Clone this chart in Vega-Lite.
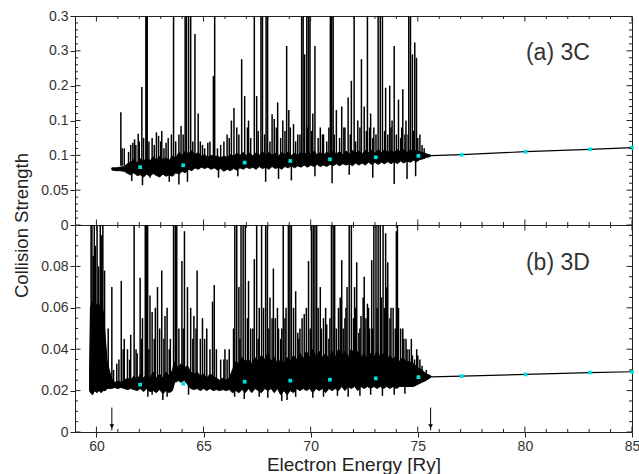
{
"$schema": "https://vega.github.io/schema/vega-lite/v6.json",
"padding": {"left": 11, "top": 8, "right": 5, "bottom": 0},
"spacing": 0,
"bounds": "flush",
"config": {"view": {"stroke": "#222", "strokeWidth": 1}, "font": "Liberation Sans",
  "axis": {"grid": false, "domain": false, "tickColor": "#222", "labelColor": "#333", "labelFont": "Liberation Sans", "labelFontSize": 14, "labelOverlap": false, "titleFont": "Liberation Sans", "titleColor": "#222", "titleFontWeight": "normal", "labelFlush": false}},
"datasets": {
"xt": [{"v":59},{"v":60},{"v":61},{"v":62},{"v":63},{"v":64},{"v":65},{"v":66},{"v":67},{"v":68},{"v":69},{"v":70},{"v":71},{"v":72},{"v":73},{"v":74},{"v":75},{"v":76},{"v":77},{"v":78},{"v":79},{"v":80},{"v":81},{"v":82},{"v":83},{"v":84},{"v":85}],
"yta": [{"v":0},{"v":0.01},{"v":0.02},{"v":0.03},{"v":0.04},{"v":0.05},{"v":0.06},{"v":0.07},{"v":0.08},{"v":0.09},{"v":0.1},{"v":0.11},{"v":0.12},{"v":0.13},{"v":0.14},{"v":0.15},{"v":0.16},{"v":0.17},{"v":0.18},{"v":0.19},{"v":0.2},{"v":0.21},{"v":0.22},{"v":0.23},{"v":0.24},{"v":0.25},{"v":0.26},{"v":0.27},{"v":0.28},{"v":0.29},{"v":0.3}],
"ytb": [{"v":0},{"v":0.005},{"v":0.01},{"v":0.015},{"v":0.02},{"v":0.025},{"v":0.03},{"v":0.035},{"v":0.04},{"v":0.045},{"v":0.05},{"v":0.055},{"v":0.06},{"v":0.065},{"v":0.07},{"v":0.075},{"v":0.08},{"v":0.085},{"v":0.09},{"v":0.095},{"v":0.1}],
"band_a": [
{"x":60.72,"lo":0.079,"hi":0.082},{"x":60.9,"lo":0.078,"hi":0.082},{"x":61.1,"lo":0.078,"hi":0.083},{"x":61.3,"lo":0.077,"hi":0.084},{"x":61.45,"lo":0.074,"hi":0.088},{"x":61.6,"lo":0.072,"hi":0.09},{"x":61.75,"lo":0.075,"hi":0.094},{"x":61.9,"lo":0.071,"hi":0.089},{"x":62.05,"lo":0.072,"hi":0.095},{"x":62.2,"lo":0.069,"hi":0.091},{"x":62.35,"lo":0.073,"hi":0.097},{"x":62.5,"lo":0.07,"hi":0.092},{"x":62.65,"lo":0.074,"hi":0.098},{"x":62.8,"lo":0.071,"hi":0.093},{"x":62.95,"lo":0.069,"hi":0.099},{"x":63.1,"lo":0.073,"hi":0.094},{"x":63.25,"lo":0.07,"hi":0.096},{"x":63.4,"lo":0.072,"hi":0.093},{"x":63.55,"lo":0.07,"hi":0.099},{"x":63.7,"lo":0.075,"hi":0.096},{"x":63.85,"lo":0.073,"hi":0.104},{"x":64.0,"lo":0.077,"hi":0.1},{"x":64.15,"lo":0.075,"hi":0.106},{"x":64.3,"lo":0.08,"hi":0.102},{"x":64.45,"lo":0.078,"hi":0.107},{"x":64.6,"lo":0.082,"hi":0.101},{"x":64.75,"lo":0.08,"hi":0.104},{"x":64.9,"lo":0.083,"hi":0.099},{"x":65.05,"lo":0.081,"hi":0.101},{"x":65.2,"lo":0.083,"hi":0.097},{"x":65.35,"lo":0.08,"hi":0.1},{"x":65.5,"lo":0.082,"hi":0.098},{"x":65.65,"lo":0.079,"hi":0.099},{"x":65.8,"lo":0.081,"hi":0.096},{"x":65.95,"lo":0.077,"hi":0.099},{"x":66.1,"lo":0.08,"hi":0.097},{"x":66.25,"lo":0.078,"hi":0.101},{"x":66.4,"lo":0.081,"hi":0.099},{"x":66.55,"lo":0.079,"hi":0.103},{"x":66.7,"lo":0.082,"hi":0.1},{"x":66.85,"lo":0.08,"hi":0.104},{"x":67.0,"lo":0.083,"hi":0.1},{"x":67.15,"lo":0.081,"hi":0.103},{"x":67.3,"lo":0.083,"hi":0.099},{"x":67.45,"lo":0.08,"hi":0.104},{"x":67.6,"lo":0.084,"hi":0.1},{"x":67.75,"lo":0.081,"hi":0.105},{"x":67.9,"lo":0.083,"hi":0.101},{"x":68.05,"lo":0.08,"hi":0.104},{"x":68.2,"lo":0.084,"hi":0.1},{"x":68.35,"lo":0.081,"hi":0.103},{"x":68.5,"lo":0.083,"hi":0.099},{"x":68.65,"lo":0.08,"hi":0.104},{"x":68.8,"lo":0.084,"hi":0.101},{"x":68.95,"lo":0.082,"hi":0.105},{"x":69.1,"lo":0.085,"hi":0.1},{"x":69.25,"lo":0.082,"hi":0.103},{"x":69.4,"lo":0.085,"hi":0.1},{"x":69.55,"lo":0.083,"hi":0.104},{"x":69.7,"lo":0.086,"hi":0.101},{"x":69.85,"lo":0.083,"hi":0.105},{"x":70.0,"lo":0.086,"hi":0.102},{"x":70.15,"lo":0.084,"hi":0.106},{"x":70.3,"lo":0.087,"hi":0.101},{"x":70.45,"lo":0.084,"hi":0.104},{"x":70.6,"lo":0.086,"hi":0.1},{"x":70.75,"lo":0.084,"hi":0.105},{"x":70.9,"lo":0.087,"hi":0.102},{"x":71.05,"lo":0.085,"hi":0.106},{"x":71.2,"lo":0.088,"hi":0.102},{"x":71.35,"lo":0.085,"hi":0.105},{"x":71.5,"lo":0.088,"hi":0.101},{"x":71.65,"lo":0.086,"hi":0.106},{"x":71.8,"lo":0.088,"hi":0.102},{"x":71.95,"lo":0.085,"hi":0.107},{"x":72.1,"lo":0.089,"hi":0.103},{"x":72.25,"lo":0.086,"hi":0.106},{"x":72.4,"lo":0.089,"hi":0.102},{"x":72.55,"lo":0.086,"hi":0.107},{"x":72.7,"lo":0.09,"hi":0.104},{"x":72.85,"lo":0.087,"hi":0.107},{"x":73.0,"lo":0.09,"hi":0.103},{"x":73.15,"lo":0.087,"hi":0.108},{"x":73.3,"lo":0.09,"hi":0.104},{"x":73.45,"lo":0.088,"hi":0.108},{"x":73.6,"lo":0.091,"hi":0.104},{"x":73.75,"lo":0.088,"hi":0.107},{"x":73.9,"lo":0.091,"hi":0.104},{"x":74.05,"lo":0.088,"hi":0.108},{"x":74.2,"lo":0.092,"hi":0.105},{"x":74.35,"lo":0.089,"hi":0.108},{"x":74.5,"lo":0.092,"hi":0.104},{"x":74.65,"lo":0.09,"hi":0.108},{"x":74.8,"lo":0.093,"hi":0.105},{"x":74.95,"lo":0.091,"hi":0.107},{"x":75.1,"lo":0.094,"hi":0.105},{"x":75.25,"lo":0.095,"hi":0.104},{"x":75.4,"lo":0.097,"hi":0.102},{"x":75.55,"lo":0.098,"hi":0.101},{"x":75.62,"lo":0.0993,"hi":0.0997}
],
"band_b": [
{"x":59.68,"lo":0.02,"hi":0.03},{"x":59.72,"lo":0.019,"hi":0.06},{"x":59.82,"lo":0.018,"hi":0.063},{"x":59.92,"lo":0.02,"hi":0.058},{"x":60.02,"lo":0.019,"hi":0.062},{"x":60.12,"lo":0.02,"hi":0.06},{"x":60.22,"lo":0.019,"hi":0.063},{"x":60.32,"lo":0.02,"hi":0.058},{"x":60.42,"lo":0.02,"hi":0.045},{"x":60.5,"lo":0.021,"hi":0.034},{"x":60.6,"lo":0.021,"hi":0.03},{"x":60.7,"lo":0.021,"hi":0.026},{"x":60.85,"lo":0.0215,"hi":0.024},{"x":61.0,"lo":0.021,"hi":0.0245},{"x":61.15,"lo":0.0215,"hi":0.024},{"x":61.3,"lo":0.021,"hi":0.025},{"x":61.45,"lo":0.0205,"hi":0.026},{"x":61.6,"lo":0.021,"hi":0.025},{"x":61.75,"lo":0.0205,"hi":0.027},{"x":61.9,"lo":0.02,"hi":0.025},{"x":62.05,"lo":0.021,"hi":0.028},{"x":62.2,"lo":0.0195,"hi":0.026},{"x":62.35,"lo":0.021,"hi":0.028},{"x":62.5,"lo":0.0195,"hi":0.026},{"x":62.65,"lo":0.02,"hi":0.029},{"x":62.8,"lo":0.019,"hi":0.026},{"x":62.95,"lo":0.0205,"hi":0.028},{"x":63.1,"lo":0.0185,"hi":0.026},{"x":63.25,"lo":0.02,"hi":0.029},{"x":63.4,"lo":0.019,"hi":0.027},{"x":63.55,"lo":0.02,"hi":0.03},{"x":63.65,"lo":0.024,"hi":0.034},{"x":63.8,"lo":0.025,"hi":0.031},{"x":63.95,"lo":0.024,"hi":0.033},{"x":64.1,"lo":0.025,"hi":0.031},{"x":64.25,"lo":0.023,"hi":0.032},{"x":64.4,"lo":0.021,"hi":0.029},{"x":64.55,"lo":0.0205,"hi":0.028},{"x":64.7,"lo":0.021,"hi":0.029},{"x":64.85,"lo":0.02,"hi":0.027},{"x":65.0,"lo":0.021,"hi":0.028},{"x":65.15,"lo":0.02,"hi":0.026},{"x":65.3,"lo":0.021,"hi":0.028},{"x":65.45,"lo":0.02,"hi":0.027},{"x":65.6,"lo":0.0205,"hi":0.026},{"x":65.75,"lo":0.02,"hi":0.025},{"x":65.9,"lo":0.0205,"hi":0.026},{"x":66.05,"lo":0.02,"hi":0.025},{"x":66.2,"lo":0.0205,"hi":0.026},{"x":66.35,"lo":0.019,"hi":0.03},{"x":66.5,"lo":0.02,"hi":0.034},{"x":66.65,"lo":0.019,"hi":0.033},{"x":66.8,"lo":0.0205,"hi":0.036},{"x":66.95,"lo":0.019,"hi":0.034},{"x":67.1,"lo":0.021,"hi":0.035},{"x":67.25,"lo":0.019,"hi":0.033},{"x":67.4,"lo":0.021,"hi":0.036},{"x":67.55,"lo":0.02,"hi":0.034},{"x":67.7,"lo":0.019,"hi":0.037},{"x":67.85,"lo":0.021,"hi":0.035},{"x":68.0,"lo":0.02,"hi":0.038},{"x":68.15,"lo":0.021,"hi":0.034},{"x":68.3,"lo":0.019,"hi":0.036},{"x":68.45,"lo":0.021,"hi":0.033},{"x":68.6,"lo":0.018,"hi":0.035},{"x":68.75,"lo":0.02,"hi":0.033},{"x":68.9,"lo":0.018,"hi":0.036},{"x":69.05,"lo":0.02,"hi":0.034},{"x":69.2,"lo":0.019,"hi":0.037},{"x":69.35,"lo":0.021,"hi":0.035},{"x":69.5,"lo":0.02,"hi":0.038},{"x":69.65,"lo":0.021,"hi":0.035},{"x":69.8,"lo":0.02,"hi":0.039},{"x":69.95,"lo":0.021,"hi":0.036},{"x":70.1,"lo":0.019,"hi":0.04},{"x":70.25,"lo":0.021,"hi":0.036},{"x":70.4,"lo":0.02,"hi":0.039},{"x":70.55,"lo":0.021,"hi":0.036},{"x":70.7,"lo":0.019,"hi":0.038},{"x":70.85,"lo":0.021,"hi":0.035},{"x":71.0,"lo":0.02,"hi":0.039},{"x":71.15,"lo":0.021,"hi":0.036},{"x":71.3,"lo":0.02,"hi":0.04},{"x":71.45,"lo":0.022,"hi":0.037},{"x":71.6,"lo":0.02,"hi":0.039},{"x":71.75,"lo":0.022,"hi":0.036},{"x":71.9,"lo":0.021,"hi":0.04},{"x":72.05,"lo":0.022,"hi":0.037},{"x":72.2,"lo":0.02,"hi":0.039},{"x":72.35,"lo":0.022,"hi":0.036},{"x":72.5,"lo":0.021,"hi":0.038},{"x":72.65,"lo":0.022,"hi":0.035},{"x":72.8,"lo":0.021,"hi":0.038},{"x":72.95,"lo":0.022,"hi":0.036},{"x":73.1,"lo":0.021,"hi":0.039},{"x":73.25,"lo":0.022,"hi":0.036},{"x":73.4,"lo":0.021,"hi":0.038},{"x":73.55,"lo":0.022,"hi":0.035},{"x":73.7,"lo":0.021,"hi":0.037},{"x":73.85,"lo":0.022,"hi":0.035},{"x":74.0,"lo":0.021,"hi":0.037},{"x":74.15,"lo":0.022,"hi":0.034},{"x":74.3,"lo":0.022,"hi":0.036},{"x":74.45,"lo":0.022,"hi":0.034},{"x":74.6,"lo":0.022,"hi":0.034},{"x":74.8,"lo":0.022,"hi":0.033},{"x":75.0,"lo":0.023,"hi":0.031},{"x":75.2,"lo":0.024,"hi":0.03},{"x":75.4,"lo":0.025,"hi":0.028},{"x":75.55,"lo":0.026,"hi":0.0275},{"x":75.62,"lo":0.0265,"hi":0.027}
],
"spk_a": [
{"x":61.14,"lo":0.085,"hi":0.162},{"x":61.2,"lo":0.085,"hi":0.11},{"x":61.5,"lo":0.085,"hi":0.105},{"x":61.7,"lo":0.085,"hi":0.118},{"x":61.78,"lo":0.085,"hi":0.123},{"x":61.84,"lo":0.085,"hi":0.115},{"x":61.95,"lo":0.085,"hi":0.131},{"x":62.12,"lo":0.085,"hi":0.198},{"x":62.31,"lo":0.085,"hi":0.32},{"x":62.34,"lo":0.085,"hi":0.32},{"x":62.37,"lo":0.085,"hi":0.32},{"x":62.45,"lo":0.085,"hi":0.12},{"x":62.6,"lo":0.085,"hi":0.125},{"x":62.8,"lo":0.085,"hi":0.133},{"x":62.9,"lo":0.085,"hi":0.128},{"x":63.05,"lo":0.085,"hi":0.135},{"x":63.15,"lo":0.085,"hi":0.11},{"x":63.35,"lo":0.085,"hi":0.125},{"x":63.6,"lo":0.085,"hi":0.32},{"x":63.7,"lo":0.085,"hi":0.12},{"x":63.85,"lo":0.085,"hi":0.13},{"x":63.95,"lo":0.085,"hi":0.142},{"x":64.14,"lo":0.09,"hi":0.32},{"x":64.2,"lo":0.09,"hi":0.32},{"x":64.3,"lo":0.09,"hi":0.32},{"x":64.4,"lo":0.09,"hi":0.32},{"x":64.6,"lo":0.09,"hi":0.274},{"x":64.75,"lo":0.09,"hi":0.16},{"x":64.85,"lo":0.09,"hi":0.12},{"x":65.05,"lo":0.09,"hi":0.11},{"x":65.3,"lo":0.09,"hi":0.12},{"x":65.46,"lo":0.09,"hi":0.214},{"x":65.52,"lo":0.09,"hi":0.32},{"x":65.8,"lo":0.09,"hi":0.115},{"x":66.1,"lo":0.09,"hi":0.13},{"x":66.3,"lo":0.09,"hi":0.15},{"x":66.42,"lo":0.09,"hi":0.168},{"x":66.55,"lo":0.09,"hi":0.14},{"x":66.78,"lo":0.09,"hi":0.238},{"x":66.92,"lo":0.09,"hi":0.185},{"x":67.1,"lo":0.09,"hi":0.15},{"x":67.2,"lo":0.09,"hi":0.125},{"x":67.37,"lo":0.09,"hi":0.32},{"x":67.48,"lo":0.09,"hi":0.185},{"x":67.68,"lo":0.09,"hi":0.32},{"x":67.75,"lo":0.09,"hi":0.32},{"x":67.92,"lo":0.09,"hi":0.32},{"x":67.99,"lo":0.09,"hi":0.32},{"x":68.1,"lo":0.095,"hi":0.12},{"x":68.2,"lo":0.095,"hi":0.159},{"x":68.3,"lo":0.095,"hi":0.152},{"x":68.46,"lo":0.095,"hi":0.176},{"x":68.6,"lo":0.095,"hi":0.125},{"x":68.7,"lo":0.095,"hi":0.15},{"x":68.88,"lo":0.095,"hi":0.257},{"x":68.98,"lo":0.095,"hi":0.165},{"x":69.2,"lo":0.095,"hi":0.145},{"x":69.3,"lo":0.095,"hi":0.12},{"x":69.4,"lo":0.095,"hi":0.13},{"x":69.58,"lo":0.095,"hi":0.32},{"x":69.65,"lo":0.095,"hi":0.32},{"x":69.72,"lo":0.095,"hi":0.245},{"x":69.82,"lo":0.095,"hi":0.32},{"x":69.9,"lo":0.095,"hi":0.32},{"x":69.97,"lo":0.095,"hi":0.32},{"x":70.1,"lo":0.095,"hi":0.16},{"x":70.2,"lo":0.095,"hi":0.257},{"x":70.35,"lo":0.095,"hi":0.125},{"x":70.45,"lo":0.095,"hi":0.14},{"x":70.6,"lo":0.095,"hi":0.13},{"x":70.75,"lo":0.095,"hi":0.12},{"x":70.92,"lo":0.095,"hi":0.32},{"x":70.98,"lo":0.095,"hi":0.32},{"x":71.05,"lo":0.095,"hi":0.32},{"x":71.2,"lo":0.095,"hi":0.165},{"x":71.35,"lo":0.095,"hi":0.125},{"x":71.45,"lo":0.095,"hi":0.17},{"x":71.6,"lo":0.095,"hi":0.14},{"x":71.75,"lo":0.095,"hi":0.183},{"x":71.9,"lo":0.095,"hi":0.207},{"x":72.03,"lo":0.095,"hi":0.32},{"x":72.1,"lo":0.095,"hi":0.12},{"x":72.2,"lo":0.095,"hi":0.15},{"x":72.37,"lo":0.095,"hi":0.238},{"x":72.5,"lo":0.095,"hi":0.17},{"x":72.65,"lo":0.095,"hi":0.32},{"x":72.8,"lo":0.095,"hi":0.16},{"x":72.9,"lo":0.095,"hi":0.125},{"x":72.95,"lo":0.095,"hi":0.14},{"x":73.15,"lo":0.095,"hi":0.32},{"x":73.25,"lo":0.095,"hi":0.32},{"x":73.35,"lo":0.095,"hi":0.32},{"x":73.5,"lo":0.095,"hi":0.197},{"x":73.6,"lo":0.095,"hi":0.13},{"x":73.69,"lo":0.095,"hi":0.2},{"x":73.8,"lo":0.095,"hi":0.15},{"x":73.9,"lo":0.095,"hi":0.257},{"x":74.1,"lo":0.095,"hi":0.18},{"x":74.2,"lo":0.095,"hi":0.125},{"x":74.3,"lo":0.095,"hi":0.195},{"x":74.4,"lo":0.095,"hi":0.13},{"x":74.45,"lo":0.095,"hi":0.15},{"x":74.58,"lo":0.095,"hi":0.32},{"x":74.66,"lo":0.095,"hi":0.32},{"x":74.75,"lo":0.095,"hi":0.245},{"x":74.86,"lo":0.095,"hi":0.262},{"x":74.94,"lo":0.095,"hi":0.24},{"x":75.0,"lo":0.095,"hi":0.125},{"x":75.1,"lo":0.095,"hi":0.13},{"x":75.3,"lo":0.095,"hi":0.11},
{"x":61.3,"lo":0.085,"hi":0.11},{"x":61.6,"lo":0.085,"hi":0.115},{"x":62.0,"lo":0.085,"hi":0.12},{"x":62.2,"lo":0.085,"hi":0.125},{"x":62.7,"lo":0.085,"hi":0.115},{"x":63.0,"lo":0.085,"hi":0.12},{"x":63.25,"lo":0.085,"hi":0.118},{"x":63.5,"lo":0.085,"hi":0.13},{"x":64.05,"lo":0.09,"hi":0.13},{"x":64.5,"lo":0.09,"hi":0.12},{"x":64.95,"lo":0.09,"hi":0.115},{"x":65.2,"lo":0.09,"hi":0.118},{"x":65.65,"lo":0.09,"hi":0.11},{"x":65.95,"lo":0.09,"hi":0.12},{"x":66.2,"lo":0.09,"hi":0.125},{"x":66.65,"lo":0.09,"hi":0.13},{"x":67.05,"lo":0.09,"hi":0.14},{"x":67.55,"lo":0.09,"hi":0.135},{"x":67.85,"lo":0.09,"hi":0.13},{"x":68.4,"lo":0.095,"hi":0.14},{"x":68.8,"lo":0.095,"hi":0.135},{"x":69.05,"lo":0.095,"hi":0.14},{"x":69.5,"lo":0.095,"hi":0.13},{"x":69.85,"lo":0.095,"hi":0.14},{"x":70.05,"lo":0.095,"hi":0.135},{"x":70.55,"lo":0.095,"hi":0.13},{"x":70.85,"lo":0.095,"hi":0.14},{"x":71.1,"lo":0.095,"hi":0.13},{"x":71.55,"lo":0.095,"hi":0.14},{"x":71.85,"lo":0.095,"hi":0.13},{"x":72.3,"lo":0.095,"hi":0.14},{"x":72.6,"lo":0.095,"hi":0.135},{"x":72.75,"lo":0.095,"hi":0.14},{"x":73.05,"lo":0.095,"hi":0.13},{"x":73.45,"lo":0.095,"hi":0.135},{"x":73.75,"lo":0.095,"hi":0.14},{"x":74.0,"lo":0.095,"hi":0.13},{"x":74.25,"lo":0.095,"hi":0.14},{"x":74.55,"lo":0.095,"hi":0.13},{"x":74.8,"lo":0.095,"hi":0.135},{"x":75.2,"lo":0.095,"hi":0.115},
{"x":61.65,"lo":0.063,"hi":0.085},{"x":62.15,"lo":0.057,"hi":0.085},{"x":62.5,"lo":0.068,"hi":0.085},{"x":63.4,"lo":0.062,"hi":0.085},{"x":63.85,"lo":0.058,"hi":0.085},{"x":64.25,"lo":0.062,"hi":0.085},{"x":65.7,"lo":0.068,"hi":0.09},{"x":66.6,"lo":0.07,"hi":0.09},{"x":67.9,"lo":0.062,"hi":0.09},{"x":68.5,"lo":0.066,"hi":0.09},{"x":69.1,"lo":0.064,"hi":0.09},{"x":70.2,"lo":0.07,"hi":0.09},{"x":71.0,"lo":0.06,"hi":0.09},{"x":71.8,"lo":0.072,"hi":0.09},{"x":72.9,"lo":0.068,"hi":0.095},{"x":73.9,"lo":0.059,"hi":0.095},{"x":74.5,"lo":0.066,"hi":0.095},{"x":74.9,"lo":0.07,"hi":0.095}
],
"spk_b": [
{"x":59.75,"lo":0.02,"hi":0.11},{"x":59.79,"lo":0.02,"hi":0.11},{"x":59.85,"lo":0.02,"hi":0.085},{"x":59.9,"lo":0.02,"hi":0.11},{"x":59.95,"lo":0.02,"hi":0.09},{"x":60.03,"lo":0.02,"hi":0.11},{"x":60.1,"lo":0.02,"hi":0.08},{"x":60.18,"lo":0.02,"hi":0.11},{"x":60.25,"lo":0.02,"hi":0.095},{"x":60.3,"lo":0.02,"hi":0.11},{"x":60.38,"lo":0.02,"hi":0.078},{"x":60.55,"lo":0.024,"hi":0.05},{"x":60.72,"lo":0.024,"hi":0.07},{"x":60.95,"lo":0.024,"hi":0.033},{"x":61.16,"lo":0.024,"hi":0.073},{"x":61.3,"lo":0.024,"hi":0.045},{"x":61.45,"lo":0.024,"hi":0.04},{"x":61.6,"lo":0.024,"hi":0.047},{"x":61.76,"lo":0.024,"hi":0.11},{"x":61.9,"lo":0.024,"hi":0.038},{"x":62.04,"lo":0.024,"hi":0.0745},{"x":62.15,"lo":0.024,"hi":0.055},{"x":62.28,"lo":0.024,"hi":0.11},{"x":62.33,"lo":0.024,"hi":0.11},{"x":62.39,"lo":0.024,"hi":0.11},{"x":62.5,"lo":0.024,"hi":0.066},{"x":62.6,"lo":0.024,"hi":0.058},{"x":62.75,"lo":0.024,"hi":0.06},{"x":62.85,"lo":0.024,"hi":0.07},{"x":63.05,"lo":0.024,"hi":0.078},{"x":63.2,"lo":0.024,"hi":0.056},{"x":63.3,"lo":0.024,"hi":0.06},{"x":63.45,"lo":0.024,"hi":0.045},{"x":63.6,"lo":0.024,"hi":0.11},{"x":63.68,"lo":0.024,"hi":0.11},{"x":63.75,"lo":0.024,"hi":0.11},{"x":63.99,"lo":0.027,"hi":0.0826},{"x":64.11,"lo":0.027,"hi":0.097},{"x":64.25,"lo":0.027,"hi":0.07},{"x":64.4,"lo":0.024,"hi":0.06},{"x":64.55,"lo":0.024,"hi":0.056},{"x":64.7,"lo":0.024,"hi":0.078},{"x":64.85,"lo":0.024,"hi":0.045},{"x":64.95,"lo":0.024,"hi":0.055},{"x":65.15,"lo":0.024,"hi":0.05},{"x":65.42,"lo":0.024,"hi":0.063},{"x":65.5,"lo":0.024,"hi":0.071},{"x":65.8,"lo":0.024,"hi":0.035},{"x":66.0,"lo":0.024,"hi":0.04},{"x":66.2,"lo":0.024,"hi":0.04},{"x":66.46,"lo":0.025,"hi":0.11},{"x":66.55,"lo":0.025,"hi":0.11},{"x":66.65,"lo":0.025,"hi":0.07},{"x":66.75,"lo":0.025,"hi":0.11},{"x":66.85,"lo":0.025,"hi":0.11},{"x":66.95,"lo":0.025,"hi":0.11},{"x":67.1,"lo":0.025,"hi":0.073},{"x":67.2,"lo":0.025,"hi":0.05},{"x":67.37,"lo":0.025,"hi":0.0835},{"x":67.48,"lo":0.025,"hi":0.11},{"x":67.6,"lo":0.025,"hi":0.06},{"x":67.71,"lo":0.025,"hi":0.11},{"x":67.9,"lo":0.025,"hi":0.11},{"x":67.98,"lo":0.025,"hi":0.11},{"x":68.1,"lo":0.025,"hi":0.065},{"x":68.26,"lo":0.025,"hi":0.079},{"x":68.35,"lo":0.025,"hi":0.055},{"x":68.5,"lo":0.025,"hi":0.05},{"x":68.6,"lo":0.025,"hi":0.045},{"x":68.72,"lo":0.025,"hi":0.11},{"x":68.85,"lo":0.025,"hi":0.06},{"x":68.96,"lo":0.025,"hi":0.11},{"x":69.03,"lo":0.025,"hi":0.11},{"x":69.1,"lo":0.025,"hi":0.11},{"x":69.3,"lo":0.025,"hi":0.068},{"x":69.4,"lo":0.025,"hi":0.048},{"x":69.5,"lo":0.025,"hi":0.05},{"x":69.7,"lo":0.025,"hi":0.057},{"x":69.9,"lo":0.025,"hi":0.0826},{"x":70.04,"lo":0.025,"hi":0.11},{"x":70.12,"lo":0.025,"hi":0.11},{"x":70.2,"lo":0.025,"hi":0.11},{"x":70.28,"lo":0.025,"hi":0.11},{"x":70.45,"lo":0.025,"hi":0.07},{"x":70.6,"lo":0.025,"hi":0.055},{"x":70.75,"lo":0.025,"hi":0.052},{"x":70.85,"lo":0.025,"hi":0.045},{"x":70.97,"lo":0.025,"hi":0.11},{"x":71.05,"lo":0.025,"hi":0.11},{"x":71.12,"lo":0.025,"hi":0.11},{"x":71.3,"lo":0.025,"hi":0.06},{"x":71.45,"lo":0.025,"hi":0.083},{"x":71.6,"lo":0.025,"hi":0.055},{"x":71.7,"lo":0.025,"hi":0.07},{"x":71.8,"lo":0.025,"hi":0.11},{"x":71.9,"lo":0.025,"hi":0.11},{"x":72.05,"lo":0.025,"hi":0.07},{"x":72.15,"lo":0.025,"hi":0.082},{"x":72.25,"lo":0.025,"hi":0.048},{"x":72.35,"lo":0.025,"hi":0.056},{"x":72.5,"lo":0.025,"hi":0.075},{"x":72.65,"lo":0.025,"hi":0.062},{"x":72.75,"lo":0.025,"hi":0.05},{"x":72.85,"lo":0.025,"hi":0.083},{"x":72.95,"lo":0.025,"hi":0.11},{"x":73.05,"lo":0.025,"hi":0.11},{"x":73.15,"lo":0.025,"hi":0.11},{"x":73.25,"lo":0.025,"hi":0.11},{"x":73.38,"lo":0.025,"hi":0.11},{"x":73.5,"lo":0.025,"hi":0.096},{"x":73.6,"lo":0.025,"hi":0.082},{"x":73.75,"lo":0.025,"hi":0.06},{"x":73.85,"lo":0.025,"hi":0.06},{"x":74.0,"lo":0.025,"hi":0.097},{"x":74.05,"lo":0.025,"hi":0.11},{"x":74.2,"lo":0.025,"hi":0.05},{"x":74.35,"lo":0.025,"hi":0.045},{"x":74.5,"lo":0.025,"hi":0.04},{"x":74.6,"lo":0.025,"hi":0.04},{"x":74.75,"lo":0.025,"hi":0.037},{"x":74.85,"lo":0.025,"hi":0.035},{"x":75.0,"lo":0.025,"hi":0.037},{"x":75.2,"lo":0.025,"hi":0.032},{"x":75.4,"lo":0.026,"hi":0.03},
{"x":60.8,"lo":0.023,"hi":0.03},{"x":61.05,"lo":0.023,"hi":0.035},{"x":61.25,"lo":0.023,"hi":0.04},{"x":61.55,"lo":0.023,"hi":0.035},{"x":61.85,"lo":0.023,"hi":0.04},{"x":62.1,"lo":0.023,"hi":0.045},{"x":62.45,"lo":0.023,"hi":0.04},{"x":62.7,"lo":0.023,"hi":0.045},{"x":62.95,"lo":0.023,"hi":0.05},{"x":63.15,"lo":0.023,"hi":0.045},{"x":63.4,"lo":0.023,"hi":0.04},{"x":63.85,"lo":0.027,"hi":0.05},{"x":64.05,"lo":0.027,"hi":0.05},{"x":64.5,"lo":0.024,"hi":0.045},{"x":64.65,"lo":0.024,"hi":0.05},{"x":65.05,"lo":0.024,"hi":0.045},{"x":65.3,"lo":0.024,"hi":0.04},{"x":65.6,"lo":0.024,"hi":0.04},{"x":65.95,"lo":0.024,"hi":0.035},{"x":66.1,"lo":0.024,"hi":0.035},
{"x":66.4,"lo":0.025,"hi":0.05},{"x":66.7,"lo":0.025,"hi":0.045},{"x":67.05,"lo":0.025,"hi":0.055},{"x":67.3,"lo":0.025,"hi":0.05},{"x":67.55,"lo":0.025,"hi":0.045},{"x":67.8,"lo":0.025,"hi":0.06},{"x":68.05,"lo":0.025,"hi":0.05},{"x":68.2,"lo":0.025,"hi":0.055},{"x":68.45,"lo":0.025,"hi":0.06},{"x":68.65,"lo":0.025,"hi":0.05},{"x":68.8,"lo":0.025,"hi":0.055},{"x":69.2,"lo":0.025,"hi":0.06},{"x":69.45,"lo":0.025,"hi":0.045},{"x":69.6,"lo":0.025,"hi":0.055},{"x":69.8,"lo":0.025,"hi":0.06},{"x":69.98,"lo":0.025,"hi":0.05},{"x":70.35,"lo":0.025,"hi":0.06},{"x":70.5,"lo":0.025,"hi":0.05},{"x":70.7,"lo":0.025,"hi":0.06},{"x":70.9,"lo":0.025,"hi":0.055},{"x":71.2,"lo":0.025,"hi":0.05},{"x":71.38,"lo":0.025,"hi":0.065},{"x":71.52,"lo":0.025,"hi":0.05},{"x":71.65,"lo":0.025,"hi":0.06},{"x":72.0,"lo":0.025,"hi":0.055},{"x":72.1,"lo":0.025,"hi":0.06},{"x":72.3,"lo":0.025,"hi":0.05},{"x":72.45,"lo":0.025,"hi":0.065},{"x":72.58,"lo":0.025,"hi":0.055},{"x":72.7,"lo":0.025,"hi":0.06},{"x":72.9,"lo":0.025,"hi":0.05},{"x":73.1,"lo":0.025,"hi":0.06},{"x":73.3,"lo":0.025,"hi":0.065},{"x":73.45,"lo":0.025,"hi":0.06},{"x":73.55,"lo":0.025,"hi":0.07},{"x":73.7,"lo":0.025,"hi":0.055},{"x":73.95,"lo":0.025,"hi":0.05},{"x":74.1,"lo":0.025,"hi":0.06},{"x":74.3,"lo":0.025,"hi":0.05},{"x":74.45,"lo":0.025,"hi":0.045},{"x":74.7,"lo":0.025,"hi":0.045},{"x":74.95,"lo":0.025,"hi":0.04},{"x":75.1,"lo":0.025,"hi":0.035},
{"x":62.4,"lo":0.017,"hi":0.022},{"x":62.6,"lo":0.018,"hi":0.022},{"x":63.1,"lo":0.0155,"hi":0.022},{"x":63.3,"lo":0.017,"hi":0.022},{"x":64.3,"lo":0.018,"hi":0.024},{"x":66.45,"lo":0.017,"hi":0.022},{"x":66.9,"lo":0.016,"hi":0.022},{"x":67.6,"lo":0.017,"hi":0.022},{"x":68.0,"lo":0.0165,"hi":0.022},{"x":68.65,"lo":0.015,"hi":0.022},{"x":68.9,"lo":0.0155,"hi":0.022},{"x":69.3,"lo":0.017,"hi":0.022},{"x":70.1,"lo":0.0165,"hi":0.022},{"x":70.6,"lo":0.017,"hi":0.022},{"x":71.25,"lo":0.0175,"hi":0.022},{"x":71.75,"lo":0.017,"hi":0.022},{"x":72.3,"lo":0.0175,"hi":0.022},{"x":72.8,"lo":0.018,"hi":0.022},{"x":73.35,"lo":0.0175,"hi":0.022},{"x":73.9,"lo":0.018,"hi":0.022},{"x":74.4,"lo":0.0185,"hi":0.022}
],
"tail": [
{"x":75.62,"a":0.0995,"b":0.0266},{"x":77.05,"a":0.101,"b":0.027},{"x":80.03,"a":0.1052,"b":0.0278},{"x":83.03,"a":0.1086,"b":0.0287},{"x":85,"a":0.111,"b":0.0291}
],
"cyan": [
{"x":62.04,"a":0.083,"b":0.0229},{"x":64.05,"a":0.0857,"b":0.0233},{"x":66.92,"a":0.0895,"b":0.0243},{"x":69.05,"a":0.0919,"b":0.0248},{"x":70.9,"a":0.0943,"b":0.0253},{"x":73.04,"a":0.0972,"b":0.0259},{"x":75.03,"a":0.0992,"b":0.0265},{"x":77.05,"a":0.1009,"b":0.027},{"x":80.03,"a":0.1052,"b":0.0278},{"x":83.03,"a":0.1086,"b":0.0287},{"x":85.0,"a":0.111,"b":0.0291}
],
"arrows": [
{"x":60.72,"y1":0.0118,"y2":0.0008,"h":0.0028},{"x":75.6,"y1":0.0118,"y2":0.0008,"h":0.0028}
]
},
"vconcat": [
{
"width": 557, "height": 209,
"layer": [
 {"layer": [
  {"data": {"name": "band_a"}, "mark": {"type": "area", "color": "black", "opacity": 1, "stroke": "black", "strokeWidth": 1},
   "encoding": {
    "x": {"field": "x", "type": "quantitative", "scale": {"domain": [59, 85], "nice": false, "zero": false},
      "axis": {"orient": "bottom", "title": null, "labels": false, "ticks": false, "values": [60,65,70,75,80,85]}},
    "y": {"field": "lo", "type": "quantitative", "scale": {"domain": [0, 0.3], "nice": false, "zero": false},
      "axis": {"orient": "left", "title": null, "values": [0,0.1,0.2,0.3], "format": "~g"}},
    "y2": {"field": "hi"}}},
  {"data": {"name": "spk_a"}, "mark": {"type": "rule", "color": "black", "strokeWidth": 1.5, "clip": true},
   "encoding": {"x": {"field": "x", "type": "quantitative"}, "y": {"field": "lo", "type": "quantitative"}, "y2": {"field": "hi"}}},
  {"data": {"name": "tail"}, "mark": {"type": "line", "color": "black", "strokeWidth": 1.2},
   "encoding": {"x": {"field": "x", "type": "quantitative"}, "y": {"field": "a", "type": "quantitative"}}},
  {"data": {"values": [{"x": 80.05, "y": 0.247, "t": "(a) 3C"}]}, "mark": {"type": "text", "align": "left", "baseline": "middle", "fontSize": 23, "color": "#333", "font": "Liberation Sans"},
   "encoding": {"x": {"field": "x", "type": "quantitative"}, "y": {"field": "y", "type": "quantitative"}, "text": {"field": "t"}}},
  {"data": {"name": "cyan"}, "mark": {"type": "square", "color": "#00e0e0", "size": 14, "opacity": 1},
   "encoding": {"x": {"field": "x", "type": "quantitative"}, "y": {"field": "a", "type": "quantitative"}}},
  {"data": {"name": "xt"}, "mark": {"type": "tick", "orient": "vertical", "color": "#222", "thickness": 1, "clip": true, "opacity": 1},
   "encoding": {"x": {"field": "v", "type": "quantitative"}, "y": {"datum": 0, "type": "quantitative"}, "size": {"condition": {"test": "datum.v % 5 == 0", "value": 11}, "value": 6}}},
  {"data": {"name": "xt"}, "mark": {"type": "tick", "orient": "vertical", "color": "#222", "thickness": 1, "clip": true, "opacity": 1},
   "encoding": {"x": {"field": "v", "type": "quantitative"}, "y": {"datum": 0.3, "type": "quantitative"}, "size": {"condition": {"test": "datum.v % 5 == 0", "value": 11}, "value": 6}}},
  {"data": {"name": "yta"}, "mark": {"type": "tick", "orient": "horizontal", "color": "#222", "thickness": 1, "clip": true, "opacity": 1},
   "encoding": {"y": {"field": "v", "type": "quantitative"}, "x": {"datum": 85, "type": "quantitative"}, "size": {"condition": {"test": "round(datum.v*1000) % 50 == 0", "value": 11}, "value": 6}}}
 ]},
 {"data": {"name": "yta"}, "mark": {"type": "tick", "orient": "horizontal", "color": "#222", "thickness": 1, "clip": true, "opacity": 1},
  "encoding": {"y": {"field": "v", "type": "quantitative", "scale": {"domain": [0, 0.3], "nice": false, "zero": false},
      "axis": {"orient": "left", "title": null, "values": [0.05,0.15,0.25], "format": "~g"}},
    "x": {"datum": 59, "type": "quantitative"}, "size": {"condition": {"test": "round(datum.v*1000) % 50 == 0", "value": 11}, "value": 6}}}
],
"resolve": {"axis": {"y": "independent"}}
},
{
"width": 557, "height": 207,
"layer": [
  {"data": {"name": "band_b"}, "mark": {"type": "area", "color": "black", "opacity": 1, "stroke": "black", "strokeWidth": 1},
   "encoding": {
    "x": {"field": "x", "type": "quantitative", "scale": {"domain": [59, 85], "nice": false, "zero": false},
      "axis": {"orient": "bottom", "title": "Electron Energy [Ry]", "titleFontSize": 19, "titlePadding": 2, "values": [60,65,70,75,80,85]}},
    "y": {"field": "lo", "type": "quantitative", "scale": {"domain": [0, 0.1], "nice": false, "zero": false},
      "axis": {"orient": "left", "title": "Collision Strength", "titleFontSize": 18.5, "titleX": -44, "titleY": 0, "titleAlign": "center", "titleAngle": -90, "titleBaseline": "bottom",
        "values": [0,0.02,0.04,0.06,0.08], "format": "~g"}},
    "y2": {"field": "hi"}}},
  {"data": {"name": "spk_b"}, "mark": {"type": "rule", "color": "black", "strokeWidth": 1.5, "clip": true},
   "encoding": {"x": {"field": "x", "type": "quantitative"}, "y": {"field": "lo", "type": "quantitative"}, "y2": {"field": "hi"}}},
  {"data": {"name": "tail"}, "mark": {"type": "line", "color": "black", "strokeWidth": 1.2},
   "encoding": {"x": {"field": "x", "type": "quantitative"}, "y": {"field": "b", "type": "quantitative"}}},
  {"data": {"name": "arrows"}, "mark": {"type": "rule", "color": "black", "strokeWidth": 1},
   "encoding": {"x": {"field": "x", "type": "quantitative"}, "y": {"field": "y1", "type": "quantitative"}, "y2": {"field": "y2"}}},
  {"data": {"name": "arrows"}, "mark": {"type": "point", "shape": "triangle-down", "filled": true, "color": "black", "size": 22, "opacity": 1},
   "encoding": {"x": {"field": "x", "type": "quantitative"}, "y": {"field": "h", "type": "quantitative"}}},
  {"data": {"values": [{"x": 80.05, "y": 0.0816, "t": "(b) 3D"}]}, "mark": {"type": "text", "align": "left", "baseline": "middle", "fontSize": 23, "color": "#333", "font": "Liberation Sans"},
   "encoding": {"x": {"field": "x", "type": "quantitative"}, "y": {"field": "y", "type": "quantitative"}, "text": {"field": "t"}}},
  {"data": {"name": "cyan"}, "mark": {"type": "square", "color": "#00e0e0", "size": 14, "opacity": 1},
   "encoding": {"x": {"field": "x", "type": "quantitative"}, "y": {"field": "b", "type": "quantitative"}}},
  {"data": {"name": "xt"}, "mark": {"type": "tick", "orient": "vertical", "color": "#222", "thickness": 1, "clip": true, "opacity": 1},
   "encoding": {"x": {"field": "v", "type": "quantitative"}, "y": {"datum": 0, "type": "quantitative"}, "size": {"condition": {"test": "datum.v % 5 == 0", "value": 11}, "value": 6}}},
  {"data": {"name": "xt"}, "mark": {"type": "tick", "orient": "vertical", "color": "#222", "thickness": 1, "clip": true, "opacity": 1},
   "encoding": {"x": {"field": "v", "type": "quantitative"}, "y": {"datum": 0.1, "type": "quantitative"}, "size": {"condition": {"test": "datum.v % 5 == 0", "value": 11}, "value": 6}}},
  {"data": {"name": "ytb"}, "mark": {"type": "tick", "orient": "horizontal", "color": "#222", "thickness": 1, "clip": true, "opacity": 1},
   "encoding": {"y": {"field": "v", "type": "quantitative"}, "x": {"datum": 59, "type": "quantitative"}, "size": {"condition": {"test": "round(datum.v*1000) % 20 == 0", "value": 11}, "value": 6}}},
  {"data": {"name": "ytb"}, "mark": {"type": "tick", "orient": "horizontal", "color": "#222", "thickness": 1, "clip": true, "opacity": 1},
   "encoding": {"y": {"field": "v", "type": "quantitative"}, "x": {"datum": 85, "type": "quantitative"}, "size": {"condition": {"test": "round(datum.v*1000) % 20 == 0", "value": 11}, "value": 6}}}
]
}
]
}
